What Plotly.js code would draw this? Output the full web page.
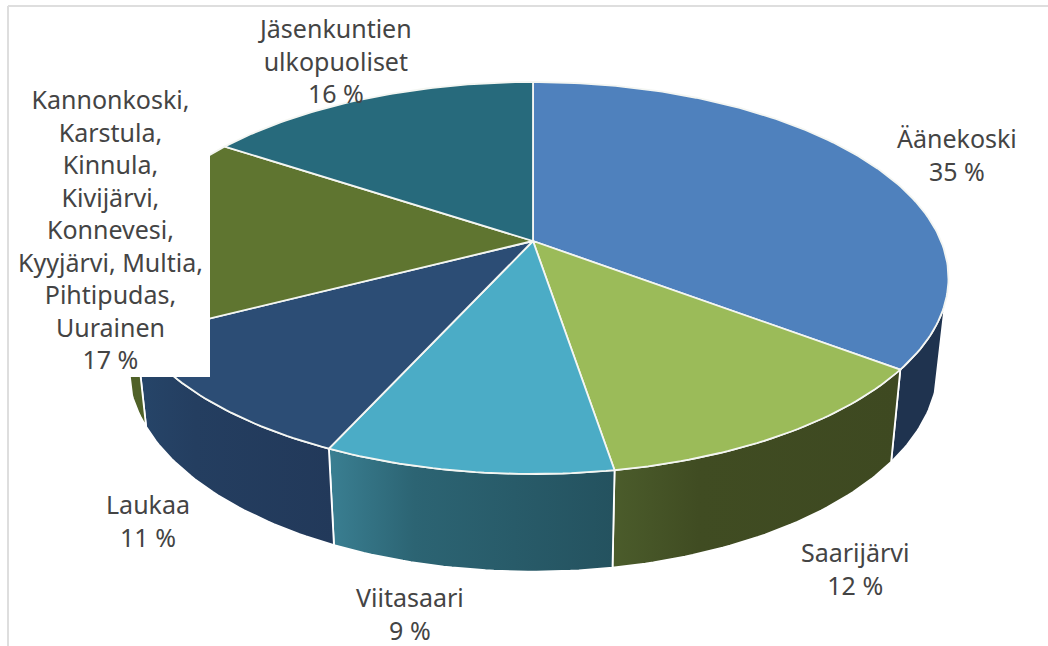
<!DOCTYPE html>
<html>
<head>
<meta charset="utf-8">
<script src="https://cdn.plot.ly/plotly-3.0.1.min.js"></script>
<style>html,body{margin:0;padding:0;background:#fff;overflow:hidden}#chart{width:1048px;height:646px}</style>
</head>
<body>
<div id="chart"></div>
<script>
const categories = ["Äänekoski","Saarijärvi","Viitasaari","Laukaa","Kannonkoski,<br>Karstula,<br>Kinnula,<br>Kivijärvi,<br>Konnevesi,<br>Kyyjärvi, Multia,<br>Pihtipudas,<br>Uurainen","Jäsenkuntien<br>ulkopuoliset"];
const values = [35.3, 12.1, 9.4, 10.6, 16.9, 15.7];
const topColors = ["#4f81bd","#9bbb59","#4bacc6","#2c4d75","#5f7530","#276a7c"];
const sideLeft  = ["#1f334f","#4b5c2b","#3a7f92","#264569","#4f6128","#1d505e"];
const sideMid   = ["#1f334f","#404c22","#2c6473","#243e60","#4f6128","#1d505e"];
const sideRight = ["#1f334f","#3e4921","#24525f","#22395a","#4f6128","#1d505e"];
const labelX = [957,855,410,148,110,335];
const labelY = [154,568,613,520,229,60];

// Perspective tilt of the pie disc, in the axis units of the page
const cx = 533, cy = 241, ax = 408, by = 189, persp = 0.1888;
const shrink = 0.975, depth0 = 86, depth1 = 0.05;
const rimFrom = 108, rimTo = 252; // part of the rim facing the viewer, degrees

function topPoint(deg){
  const t = deg*Math.PI/180, X = Math.sin(t), Y = -Math.cos(t), w = 1-persp*Y;
  return [cx+ax*X/w, cy+by*Y/w];
}
function botPoint(deg){
  const p = topPoint(deg);
  return [cx+(p[0]-cx)*shrink, p[1]+depth0+depth1*(p[1]-cy)];
}
function arc(fn,a,b){
  const n = Math.max(4,Math.ceil(Math.abs(b-a))), out=[];
  for(let i=0;i<=n;i++) out.push(fn(a+(b-a)*i/n));
  return out;
}
const total = values.reduce((s,v)=>s+v,0);
let cum = 0;
const spans = values.map(v=>{const a=cum/total*360; cum+=v; return [a,cum/total*360];});

const sideTraces = [];
spans.forEach((s,i)=>{
  const a = Math.max(s[0],rimFrom), b = Math.min(s[1],rimTo);
  if(b<=a) return;
  const pts = arc(topPoint,a,b).concat(arc(botPoint,b,a));
  pts.push(pts[0]);
  sideTraces.push({type:'scatter',mode:'lines',x:pts.map(p=>p[0]),y:pts.map(p=>p[1]),
    fill:'toself',hoverinfo:'skip',showlegend:false,
    line:{color:'#ffffff',width:1.8},
    fillgradient:{type:'horizontal',colorscale:[[0,sideLeft[i]],[0.3,sideMid[i]],[1,sideRight[i]]]}});
});
const topTraces = spans.map((s,i)=>{
  const pts = [[cx,cy]].concat(arc(topPoint,s[0],s[1]));
  pts.push([cx,cy]);
  return {type:'scatter',mode:'lines',x:pts.map(p=>p[0]),y:pts.map(p=>p[1]),
    fill:'toself',fillcolor:topColors[i],hoverinfo:'skip',showlegend:false,
    line:{color:'#f4f6f2',width:1.8}};
});

const annotations = categories.map((c,i)=>({
  x:labelX[i],y:labelY[i],xref:'x',yref:'y',xanchor:'center',yanchor:'middle',
  showarrow:false,align:'center',
  text:c+'<br>'+Math.round(values[i])+' %',
  font:{family:'"Noto Sans", sans-serif',size:25,color:'#444444'}
}));

const layout = {
  width:1048,height:646,margin:{l:0,r:0,t:0,b:0},
  paper_bgcolor:'#ffffff',plot_bgcolor:'#ffffff',hovermode:false,showlegend:false,
  xaxis:{visible:false,range:[0,1048],fixedrange:true},
  yaxis:{visible:false,range:[646,0],fixedrange:true},
  shapes:[
    {type:'rect',layer:'above',xref:'x',yref:'y',x0:10,x1:210,y0:84,y1:377,fillcolor:'#ffffff',line:{width:0}},
    {type:'line',layer:'above',xref:'x',yref:'y',x0:8,x1:8,y0:6,y1:646,line:{color:'#dedede',width:2}},
    {type:'line',layer:'above',xref:'x',yref:'y',x0:8,x1:1048,y0:6,y1:6,line:{color:'#dedede',width:2}}
  ],
  annotations:annotations
};
Plotly.newPlot('chart',sideTraces.concat(topTraces),layout,{displayModeBar:false,staticPlot:true});
</script>
</body>
</html>
